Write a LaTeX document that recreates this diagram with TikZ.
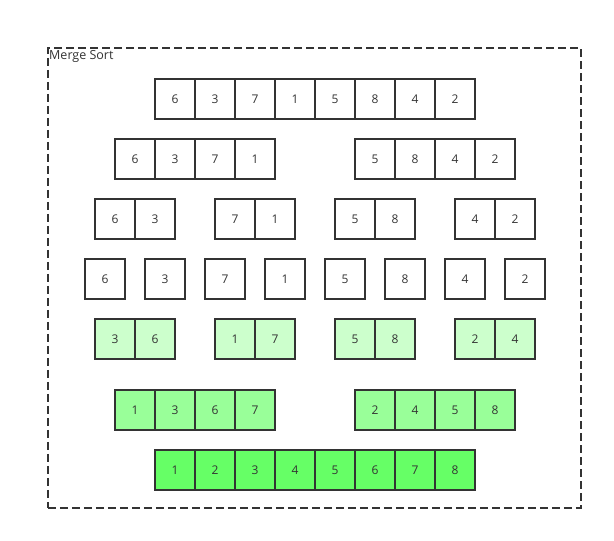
\documentclass[tikz,border=0pt]{standalone}
\usepackage{fontspec}
\setmainfont{Open Sans}
\definecolor{ink}{HTML}{333333}
\definecolor{lg}{HTML}{CCFFCC}
\definecolor{mg}{HTML}{99FF99}
\definecolor{dg}{HTML}{66FF66}
\begin{document}
\begin{tikzpicture}[x=1pt,y=-1pt,
  cell/.style={draw=ink,line width=2pt,minimum size=40pt,inner sep=0pt,anchor=north west,font=\fontsize{12}{14}\selectfont,text=ink},
  frame/.style={draw=ink,line width=1.5pt,dash pattern=on 8pt off 4pt}]
\useasboundingbox (1,1) rectangle (615,542);
\node[frame,minimum width=533pt,minimum height=460pt,anchor=north west,inner sep=0pt] (box) at (48,48) {};
\node[anchor=west,inner sep=0pt,font=\fontsize{12.5}{14}\selectfont,text=ink] (title) at (50,57.5) {Merge Sort};
% row 1
\foreach \v [count=\i] in {6,3,7,1,5,8,4,2}
  \node[cell] (a\i) at ({155+40*(\i-1)},79) {\v};
% row 2
\foreach \v [count=\i] in {6,3,7,1}
  \node[cell] (b\i) at ({115+40*(\i-1)},139) {\v};
\foreach \v [count=\i] in {5,8,4,2}
  \node[cell] (bb\i) at ({355+40*(\i-1)},139) {\v};
% row 3
\foreach \x/\v [count=\i] in {95/6,135/3,215/7,255/1,335/5,375/8,455/4,495/2}
  \node[cell] (c\i) at (\x,199) {\v};
% row 4
\foreach \v [count=\i] in {6,3,7,1,5,8,4,2}
  \node[cell] (d\i) at ({85+60*(\i-1)},259) {\v};
% row 5
\foreach \x/\v [count=\i] in {95/3,135/6,215/1,255/7,335/5,375/8,455/2,495/4}
  \node[cell,fill=lg] (e\i) at (\x,319) {\v};
% row 6
\foreach \v [count=\i] in {1,3,6,7}
  \node[cell,fill=mg] (f\i) at ({115+40*(\i-1)},390) {\v};
\foreach \v [count=\i] in {2,4,5,8}
  \node[cell,fill=mg] (ff\i) at ({355+40*(\i-1)},390) {\v};
% row 7
\foreach \v [count=\i] in {1,2,3,4,5,6,7,8}
  \node[cell,fill=dg] (g\i) at ({155+40*(\i-1)},450) {\v};
\end{tikzpicture}
\end{document}
